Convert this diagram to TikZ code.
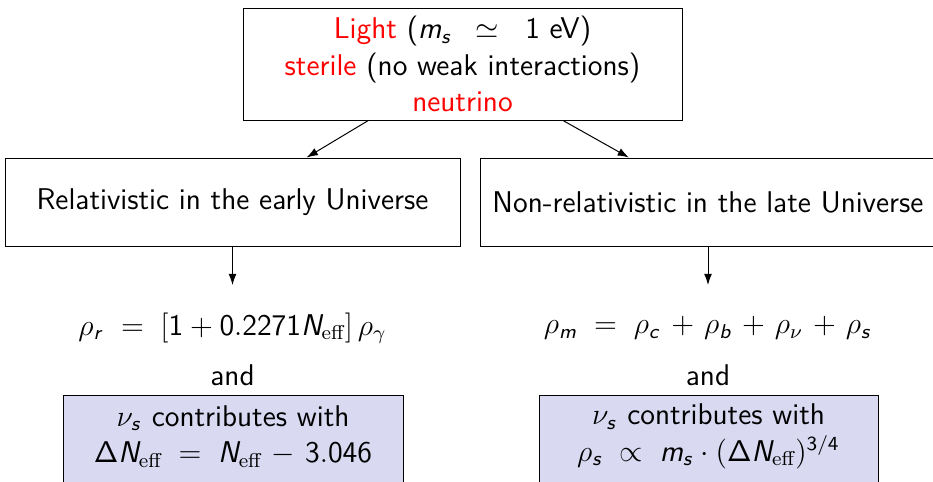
\documentclass[tikz,border=0pt]{standalone}
\usepackage{amsmath}
\usetikzlibrary{arrows.meta}
\DeclareSymbolFont{sfop}{OT1}{cmss}{m}{n}
\DeclareSymbolFont{sfit}{OT1}{cmss}{m}{sl}
\DeclareMathSymbol{\Delta}{\mathalpha}{sfop}{"01}
\DeclareMathSymbol{0}{\mathalpha}{sfop}{`0}
\DeclareMathSymbol{1}{\mathalpha}{sfop}{`1}
\DeclareMathSymbol{2}{\mathalpha}{sfop}{`2}
\DeclareMathSymbol{3}{\mathalpha}{sfop}{`3}
\DeclareMathSymbol{4}{\mathalpha}{sfop}{`4}
\DeclareMathSymbol{6}{\mathalpha}{sfop}{`6}
\DeclareMathSymbol{7}{\mathalpha}{sfop}{`7}
\DeclareMathSymbol{m}{\mathalpha}{sfit}{`m}
\DeclareMathSymbol{s}{\mathalpha}{sfit}{`s}
\DeclareMathSymbol{r}{\mathalpha}{sfit}{`r}
\DeclareMathSymbol{c}{\mathalpha}{sfit}{`c}
\DeclareMathSymbol{b}{\mathalpha}{sfit}{`b}
\DeclareMathSymbol{N}{\mathalpha}{sfit}{`N}
\newcommand{\eff}{\textrm{eff}}
\newcommand{\pls}{\mskip2mu+\mskip2mu}
\newcommand{\pxu}{0.4pt}
\definecolor{boxblue}{RGB}{217,217,242}
\tikzset{
  base/.style={font=\sffamily\fontsize{12}{14.6}\selectfont, align=center, inner sep=0pt},
  whitebox/.style={base, draw=black, line width=0.4pt},
  bluebox/.style={base, draw=black, line width=0.4pt, fill=boxblue},
  conn/.style={-{Latex[length=4.5pt,width=3.2pt]}, line width=0.4pt},
}
\begin{document}
\begin{tikzpicture}[x=\pxu, y=-\pxu]
\path[use as bounding box, clip] (0,0) rectangle (933,481);
\node[whitebox, minimum width=439*\pxu, minimum height=112*\pxu] (top) at (462.5,64)
  {\textcolor{red}{Light} ($m_s\ \,\simeq\ \;1$ eV)\\
   \textcolor{red}{sterile} (no weak interactions)\\
   \textcolor{red}{neutrino}};
\node[whitebox, minimum width=455*\pxu, minimum height=88*\pxu] (rel) at (232.5,202)
  {Relativistic in the early Universe};
\node[whitebox, minimum width=455*\pxu, minimum height=88*\pxu] (nrel) at (708,202)
  {Non-relativistic in the late Universe};
\draw[conn] (top) -- (rel);
\draw[conn] (top) -- (nrel);
\coordinate (relend) at (232.5,285);
\coordinate (nrelend) at (708,285);
\draw[conn] (rel.south) -- (relend);
\draw[conn] (nrel.south) -- (nrelend);
\node[base] (rhor) at (232.5,328)
  {$\rho_r\;=\;[1+0.2271N_{\eff}]\,\rho_\gamma$};
\node[base] (rhom) at (708,328)
  {$\rho_m\;=\;\rho_c\pls\rho_b\pls\rho_\nu\pls\rho_s$};
\node[base] (andl) at (232.5,375) {and};
\node[base] (andr) at (708,375) {and};
\node[bluebox, minimum width=340*\pxu, minimum height=100*\pxu, anchor=north] (bl) at (233,395) {};
\node[bluebox, minimum width=339*\pxu, minimum height=100*\pxu, anchor=north] (br) at (708.5,395) {};
\node[base] (bltext) at (233,436.5)
  {$\nu_s$ contributes with\\ $\Delta N_{\eff}\;=\;N_{\eff}\mskip2mu-\mskip2mu3.046$};
\node[base] (brtext) at (708.5,436.5)
  {$\nu_s$ contributes with\\ $\rho_s\;\propto\;m_s\cdot(\Delta N_{\eff})^{3/4}$};
\end{tikzpicture}
\end{document}
